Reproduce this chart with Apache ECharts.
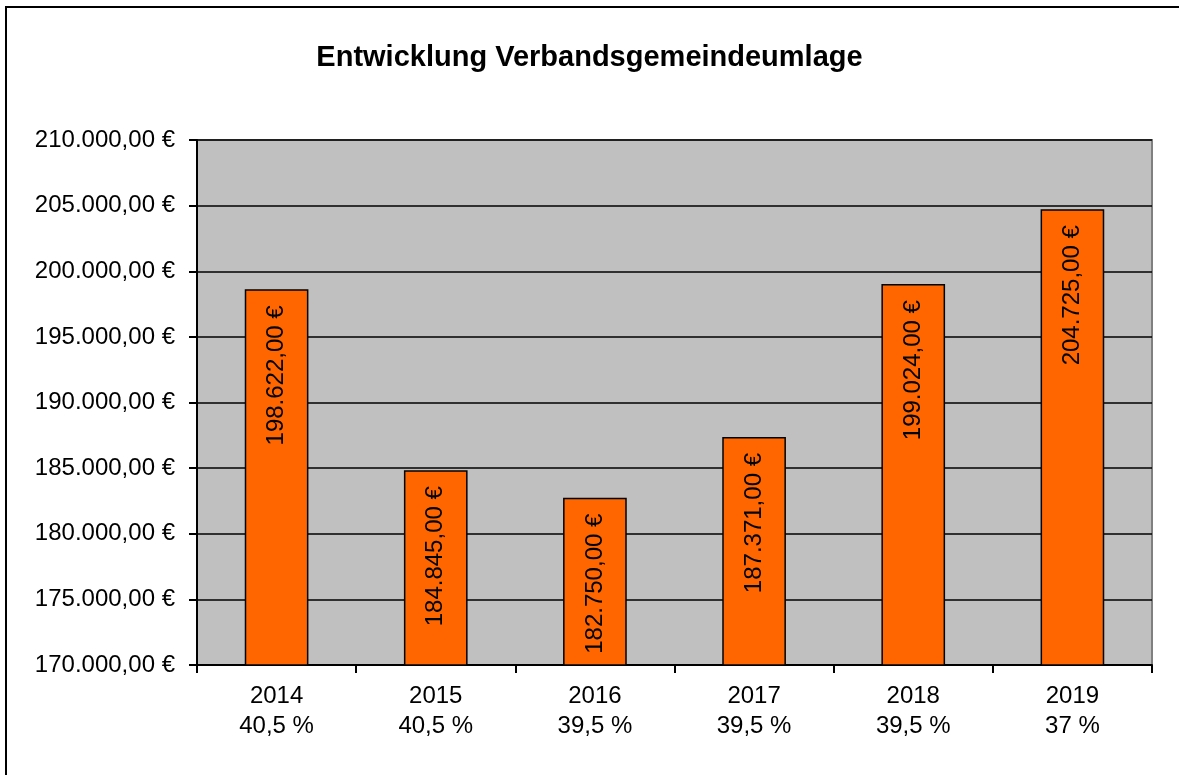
<!DOCTYPE html>
<html>
<head>
<meta charset="utf-8">
<script src="https://cdn.jsdelivr.net/npm/echarts@6/dist/echarts.min.js"></script>
<style>
  html, body { margin: 0; padding: 0; background: #fff; }
  #chart { width: 1179px; height: 775px; }
</style>
</head>
<body>
<div id="chart"></div>
<script>
// Daten
var years = ['2014', '2015', '2016', '2017', '2018', '2019'];
var rates = ['40,5 %', '40,5 %', '39,5 %', '39,5 %', '39,5 %', '37 %'];
var umlage = [198622, 184845, 182750, 187371, 199024, 204725];

var categories = years.map(function (y, i) { return y + '\n' + rates[i]; });

// 1234567 -> "1.234.567,00 €"
function euro(v) {
    var s = Math.round(v).toString().replace(/\B(?=(\d{3})+(?!\d))/g, '.');
    return s + ',00 €';
}

var myChart = echarts.init(document.getElementById('chart'));
var fontFam = '"Liberation Sans", Arial, sans-serif';

var option = {
    animation: false,
    textStyle: { fontFamily: fontFam },
    graphic: [{
        type: 'rect',
        shape: { x: 6, y: 7, width: 1200, height: 800 },
        style: { fill: 'none', stroke: '#000', lineWidth: 2 },
        z: -1
    }],
    title: {
        text: 'Entwicklung Verbandsgemeindeumlage',
        left: 'center',
        top: 38,
        textStyle: { color: '#000', fontSize: 29, fontWeight: 'bold', fontFamily: fontFam }
    },
    grid: {
        left: 197,
        right: 27,
        top: 140,
        bottom: 110,
        show: true,
        backgroundColor: '#C0C0C0',
        borderColor: '#808080',
        borderWidth: 2
    },
    xAxis: {
        type: 'category',
        data: categories,
        axisLine: { lineStyle: { color: '#000', width: 2 } },
        axisTick: { show: true, length: 8, lineStyle: { color: '#000', width: 2 } },
        axisLabel: {
            color: '#000',
            fontSize: 24,
            lineHeight: 30,
            margin: 16,
            fontFamily: fontFam
        }
    },
    yAxis: {
        type: 'value',
        min: 170000,
        max: 210000,
        interval: 5000,
        axisLine: { show: true, lineStyle: { color: '#000', width: 2 } },
        axisTick: { show: true, length: 8, lineStyle: { color: '#000', width: 2 } },
        splitLine: { lineStyle: { color: '#000', width: 1.5 } },
        axisLabel: {
            color: '#000',
            fontSize: 24,
            margin: 22,
            fontFamily: fontFam,
            formatter: function (v) { return euro(v); }
        }
    },
    series: [{
        name: 'Verbandsgemeindeumlage',
        type: 'bar',
        data: umlage,
        barWidth: '40%',
        itemStyle: { color: '#FF6600', borderColor: '#000', borderWidth: 1.5 },
        label: {
            show: true,
            position: 'insideTop',
            rotate: 90,
            align: 'right',
            verticalAlign: 'middle',
            distance: 16,
            color: '#000',
            fontSize: 24,
            fontFamily: fontFam,
            formatter: function (p) { return euro(p.value); }
        }
    }]
};

myChart.setOption(option);
</script>
</body>
</html>
